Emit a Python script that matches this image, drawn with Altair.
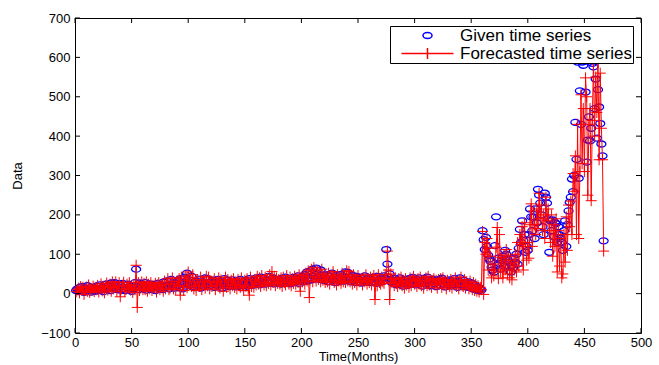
import altair as alt
import pandas as pd

# ---------------- data ----------------
given = [
    8, 12, 5, 15, 10, 18, 6, 3, 14, 9, 20, 7, 11, 4, 16, 10, 13, 6, 19, 8,
    12, 22, 9, 15, 5, 18, 24, 11, 14, 20, 8, 27, 16, 12, 28, 19, 10, 25, 14, 9,
    17, 26, 12, 8, 21, 15, 24, 11, 18, 6, 20, 13, 28, 62, 16, 10, 27, 15, 24, 12,
    18, 28, 9, 21, 14, 25, 11, 19, 16, 23, 8, 20, 26, 13, 17, 22, 10, 29, 15, 21,
    32, 18, 12, 24, 36, 17, 22, 14, 28, 20, 33, 16, 38, 25, 12, 30, 42, 19, 52, 26,
    35, 22, 44, 18, 28, 15, 32, 24, 20, 37, 14, 26, 30, 19, 40, 23, 38, 17, 29, 21,
    25, 34, 16, 28, 22, 36, 19, 31, 24, 14, 27, 38, 20, 33, 26, 18, 30, 23, 35, 21,
    28, 17, 32, 24, 20, 36, 26, 15, 30, 22, 34, 19, 27, 38, 23, 29, 21, 33, 25, 40,
    28, 36, 22, 42, 30, 26, 38, 24, 34, 29, 44, 27, 35, 31, 40, 25, 37, 30, 33, 28,
    36, 24, 39, 31, 27, 42, 33, 29, 38, 25, 35, 30, 41, 28, 37, 32, 45, 26, 39, 34,
    43, 30, 48, 36, 55, 33, 40, 58, 35, 62, 45, 38, 65, 42, 50, 36, 60, 40, 47, 33,
    41, 35, 48, 30, 44, 38, 52, 34, 42, 28, 46, 37, 40, 31, 49, 36, 43, 32, 55, 38,
    54, 35, 42, 30, 46, 33, 39, 28, 44, 36, 31, 41, 27, 38, 34, 45, 29, 37, 32, 40,
    28, 35, 42, 30, 38, 26, 44, 33, 29, 40, 36, 31, 45, 40, 112, 75, 42, 50, 30, 35,
    26, 38, 31, 22, 35, 28, 40, 24, 33, 19, 36, 27, 30, 21, 38, 25, 32, 41, 28, 34,
    22, 36, 29, 40, 25, 33, 19, 31, 38, 24, 42, 27, 35, 20, 30, 37, 26, 32, 18, 34,
    28, 36, 21, 39, 25, 31, 17, 33, 27, 22, 35, 19, 30, 26, 38, 23, 29, 16, 32, 40,
    25, 21, 34, 18, 28, 24, 16, 30, 20, 14, 26, 12, 22, 10, 18, 8, 15, 12, 9, 160,
    137, 112, 143, 120, 98, 88, 82, 67, 60, 55, 122, 195, 72, 90, 77, 62, 85, 95, 70, 110,
    100, 88, 80, 68, 55, 72, 65, 90, 80, 100, 75, 115, 163, 130, 185, 135, 150, 105, 120, 110,
    150, 215, 195, 160, 195, 140, 215, 180, 265, 250, 230, 200, 170, 150, 255, 245, 230, 190, 105, 185,
    160, 187, 145, 180, 178, 130, 170, 150, 140, 130, 110, 160, 185, 120, 175, 210, 232, 245, 291, 259,
    300, 435, 341, 588, 293, 515, 430, 588, 580, 590, 512, 334, 390, 449, 388, 420, 585, 576, 470, 545,
    395, 518, 474, 432, 380, 350, 134,
]

forecast = [
    5, 10, 14, 2, 18, 9, 16, -2, 8, 17, 6, 22, 3, 13, 8, 19, 5, 15, 10, 21,
    4, 14, 25, 7, 18, 2, 20, 27, 9, 16, 24, 6, 30, 12, 15, 30, 5, 18, 28, -8,
    12, 20, 29, 5, 10, 24, 13, 28, 9, 20, 3, 22, 10, 72, -35, 28, 8, 14, 30, 10,
    26, 10, 30, 6, 24, 12, 28, 8, 21, 14, 26, 4, 22, 28, 10, 19, 24, 6, 32, 12,
    23, 38, 10, 14, 30, 40, 12, 25, 10, 32, 18, 38, -4, 42, 20, 8, 34, 45, 15, 55,
    22, 40, 18, 48, 12, 30, 8, 36, 20, 18, 42, 10, 30, 35, 14, 44, 20, 42, 12, 32,
    18, 28, 38, 10, 30, 20, 40, 14, 35, 22, 6, 30, 42, 16, 36, 22, 12, 34, 20, 38,
    16, 30, 12, 36, 20, 16, 40, 22, 8, 34, 18, 38, 14, -4, 42, 18, 32, 16, 36, 22,
    44, 24, 40, 18, 46, 28, 22, 42, 20, 38, 26, 48, 22, 56, 28, 44, 20, 40, 26, 36,
    24, 40, 18, 42, 28, 22, 46, 30, 24, 42, 20, 38, 26, 44, 24, 40, 28, 48, 6, 42,
    30, 46, 24, 52, 32, 58, -10, 44, 62, 30, 66, 40, 32, 58, 36, 52, 30, 62, 34, 48,
    28, 44, 30, 52, 24, 46, 34, 56, 28, 44, 22, 48, 32, 42, 26, 52, 30, 46, 28, 58,
    32, 56, 30, 44, 24, 48, 28, 40, 22, 46, 30, 34, 38, 22, 40, 30, 48, 24, 38, 28,
    42, 22, 38, 46, -15, 40, 20, 48, 28, 24, 42, 30, 26, 48, 38, 108, 60, -15, 50, 28,
    36, 20, 40, 26, 18, 38, 24, 42, 20, 34, 14, 38, 22, 32, 16, 40, 20, 34, 44, 24,
    36, 18, 38, 24, 42, 20, 34, 14, 32, 40, 20, 44, 22, 36, 16, 32, 38, 22, 34, 14,
    36, 24, 38, 16, 40, 22, 32, 12, 34, 24, 18, 36, 14, 32, 22, 40, 18, 30, 12, 34,
    42, 20, 18, 36, 14, 30, 22, 12, 32, 16, 10, 28, 8, 24, 6, 20, 4, 16, 10, 158,
    -2, 130, 100, 140, 60, 115, 95, 40, 75, 45, 60, 118, 168, 38, 150, 55, 92, 40, 98, 60,
    112, 50, 95, 40, 85, 35, 78, 60, 100, 55, 130, 70, 150, 125, 170, 60, 180, 120, 85, 130,
    90, 175, 228, 120, 210, 175, 150, 215, 165, 255, 190, 225, 160, 200, 140, 245, 185, 215, 160, 130,
    200, 95, 175, 120, 190, 55, 160, 70, 140, 40, 50, 150, 80, 195, 110, 225, 170, 235, 150, 305,
    260, 350, 150, 430, 140, 310, 505, 330, 470, 310, 548, 500, 250, 430, 470, 236, 440, 590, 400, 550,
    460, 590, 340, 560, 420, 340, 108,
]

x_ticks = [0, 50, 100, 150, 200, 250, 300, 350, 400, 450, 500]
y_ticks = [-100, 0, 100, 200, 300, 400, 500, 600, 700]
series_names = ["Given time series", "Forecasted time series"]

# ---------------- tables ----------------
gdf = pd.DataFrame({"t": list(range(1, len(given) + 1)), "v": given, "s": series_names[0]})
fdf = pd.DataFrame({"t": list(range(1, len(forecast) + 1)), "v": forecast})
xt = pd.DataFrame({"tick": x_ticks})
yt = pd.DataFrame({"tick": y_ticks})

W, H = 566, 315
FONT = "Liberation Sans"
xs = alt.Scale(domain=[x_ticks[0], x_ticks[-1]], nice=False, zero=False)
ys = alt.Scale(domain=[y_ticks[0], y_ticks[-1]], nice=False, zero=False)

ELLIPSE = "M-0.9,0A0.9,0.6 0 1,0 0.9,0A0.9,0.6 0 1,0 -0.9,0"
LEGLINE = "M-5.2,0L5.2,0M0,-1.1L0,1.1"
PLUS = "M-1,0L1,0M0,-1L0,1"

xaxis = alt.Axis(values=x_ticks, title="Time(Months)", labelPadding=3, titlePadding=1,
                 labelFlush=False, labelOverlap=False)
yaxis = alt.Axis(values=y_ticks, title="Data", labelPadding=5, titlePadding=16,
                 labelFlush=False, labelOverlap=False)

leg = alt.Legend(
    title=None, orient="top-right", offset=8,
    strokeColor="black", fillColor="white", padding=1, cornerRadius=0,
    labelFont=FONT, labelFontSize=17, labelColor="black", labelLimit=400,
    symbolSize=100, symbolStrokeWidth=1.5, symbolOffset=28, labelOffset=24,
    rowPadding=0, symbolOpacity=1,
)

circles = alt.Chart(gdf).mark_point(filled=False, size=100, strokeWidth=1.3, opacity=1).encode(
    x=alt.X("t:Q", scale=xs, axis=xaxis),
    y=alt.Y("v:Q", scale=ys, axis=yaxis),
    color=alt.Color("s:N", scale=alt.Scale(domain=series_names, range=["#0000ff", "#ff0000"]), legend=leg),
    shape=alt.Shape("s:N", scale=alt.Scale(domain=series_names, range=[ELLIPSE, LEGLINE]), legend=leg),
)

line = alt.Chart(fdf).mark_line(color="#ff0000", strokeWidth=1).encode(
    x=alt.X("t:Q", scale=xs, axis=xaxis), y=alt.Y("v:Q", scale=ys, axis=yaxis)
)
crosses = alt.Chart(fdf).mark_point(shape=PLUS, filled=False, color="#ff0000", size=121,
                                    strokeWidth=1, opacity=1).encode(
    x=alt.X("t:Q", scale=xs, axis=xaxis), y=alt.Y("v:Q", scale=ys, axis=yaxis)
)

tick_len = 5
xb = alt.Chart(xt).mark_rule(color="black", strokeWidth=1).encode(
    x=alt.X("tick:Q", scale=xs, axis=xaxis), y=alt.value(H), y2=alt.value(H - tick_len))
xtp = alt.Chart(xt).mark_rule(color="black", strokeWidth=1).encode(
    x=alt.X("tick:Q", scale=xs, axis=xaxis), y=alt.value(0), y2=alt.value(tick_len))
yl = alt.Chart(yt).mark_rule(color="black", strokeWidth=1).encode(
    y=alt.Y("tick:Q", scale=ys, axis=yaxis), x=alt.value(0), x2=alt.value(tick_len))
yr = alt.Chart(yt).mark_rule(color="black", strokeWidth=1).encode(
    y=alt.Y("tick:Q", scale=ys, axis=yaxis), x=alt.value(W), x2=alt.value(W - tick_len))

chart = alt.layer(circles, line, crosses, xb, xtp, yl, yr).properties(
    width=W, height=H,
    autosize=alt.AutoSizeParams(type="none"),
    padding={"left": 75, "top": 18, "right": 18, "bottom": 32},
    background="white",
).configure_view(
    stroke="black", strokeWidth=1
).configure_axis(
    domain=False, ticks=False, grid=False, labelOverlap=False, labelFlush=False,
    labelFont=FONT, labelFontSize=13, labelColor="black",
    titleFont=FONT, titleFontSize=13, titleFontWeight="normal", titleColor="black",
)

chart.save("out.html", embed_options={"renderer": "svg", "actions": False})
